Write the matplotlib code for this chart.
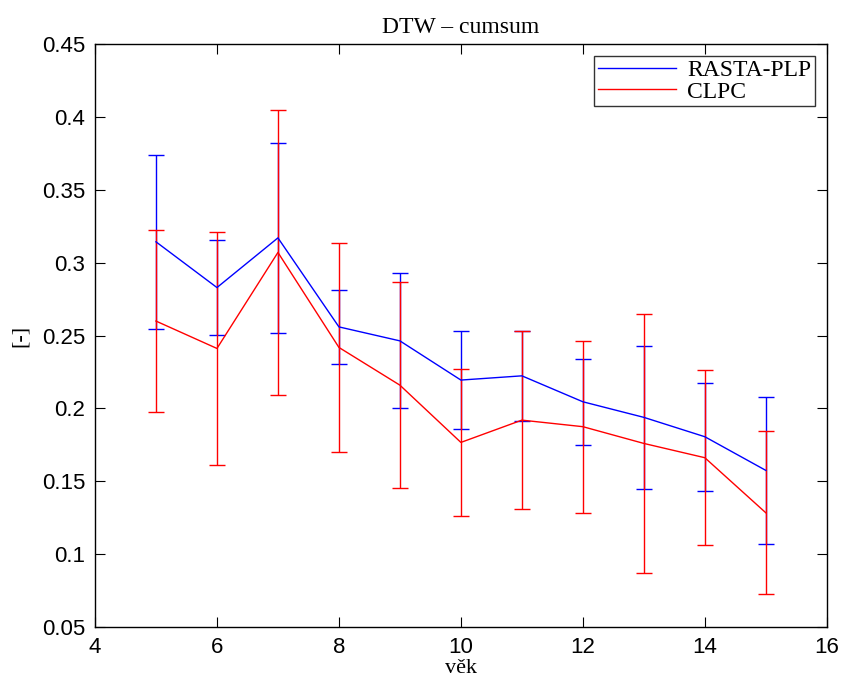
import numpy as np
import matplotlib
matplotlib.use("Agg")
import matplotlib.pyplot as plt
from matplotlib.lines import Line2D

# vek (age)
age = [5, 6, 7, 8, 9, 10, 11, 12, 13, 14, 15]

# RASTA-PLP: mean and std
rasta_mean = [0.3144, 0.2830, 0.3171, 0.2560, 0.2464, 0.2195, 0.2224, 0.2046, 0.1939, 0.1806, 0.1575]
rasta_err = [0.0597, 0.0326, 0.0652, 0.0255, 0.0464, 0.0338, 0.0309, 0.0295, 0.0490, 0.0372, 0.0503]

# CLPC: mean and std
clpc_mean = [0.2600, 0.2412, 0.3071, 0.2419, 0.2160, 0.1767, 0.1920, 0.1875, 0.1760, 0.1662, 0.1284]
clpc_err = [0.0625, 0.0797, 0.0978, 0.0715, 0.0707, 0.0503, 0.0612, 0.0590, 0.0888, 0.0600, 0.0558]

serif = ["Liberation Serif", "DejaVu Serif"]
sans = ["Liberation Sans", "DejaVu Sans"]

fig = plt.figure(figsize=(8.48, 6.81), dpi=100)
ax = fig.add_axes([0.112, 0.0793, 0.863, 0.8557])

ax.errorbar(age, rasta_mean, yerr=rasta_err, color="blue", lw=1.0,
            elinewidth=1.0, capsize=5.5, capthick=1.0)
ax.errorbar(age, clpc_mean, yerr=clpc_err, color="red", lw=1.0,
            elinewidth=1.0, capsize=5.5, capthick=1.0)

ax.set_xlim(4, 16)
ax.set_ylim(0.05, 0.45)
ax.set_xticks(np.arange(4, 17, 2))
ax.set_yticks(np.arange(0.05, 0.451, 0.05))
ax.set_yticklabels(["0.05", "0.1", "0.15", "0.2", "0.25", "0.3", "0.35", "0.4", "0.45"])

ax.tick_params(direction="in", top=True, right=True, length=7, width=0.8,
               labelsize=16, pad=7)
for lab in ax.get_xticklabels() + ax.get_yticklabels():
    lab.set_family(sans)
for s in ax.spines.values():
    s.set_linewidth(1.0)

ax.set_title("DTW \u2013 cumsum", family=serif, fontsize=17, pad=8)
ax.set_xlabel("v\u011bk", family=serif, fontsize=16, labelpad=1)
ax.set_ylabel("[-]", family=serif, fontsize=16, labelpad=9)

handles = [Line2D([], [], color="blue", lw=1.0),
           Line2D([], [], color="red", lw=1.0)]
leg = ax.legend(handles, ["RASTA-PLP", "CLPC"], loc="upper right",
                prop={"family": serif, "size": 17},
                frameon=True, fancybox=False, edgecolor="black",
                handlelength=3.3, borderpad=0.15, labelspacing=0.0,
                borderaxespad=0.5, handletextpad=0.5)
leg.get_frame().set_linewidth(1.0)

fig.savefig("out.png", dpi=100)
